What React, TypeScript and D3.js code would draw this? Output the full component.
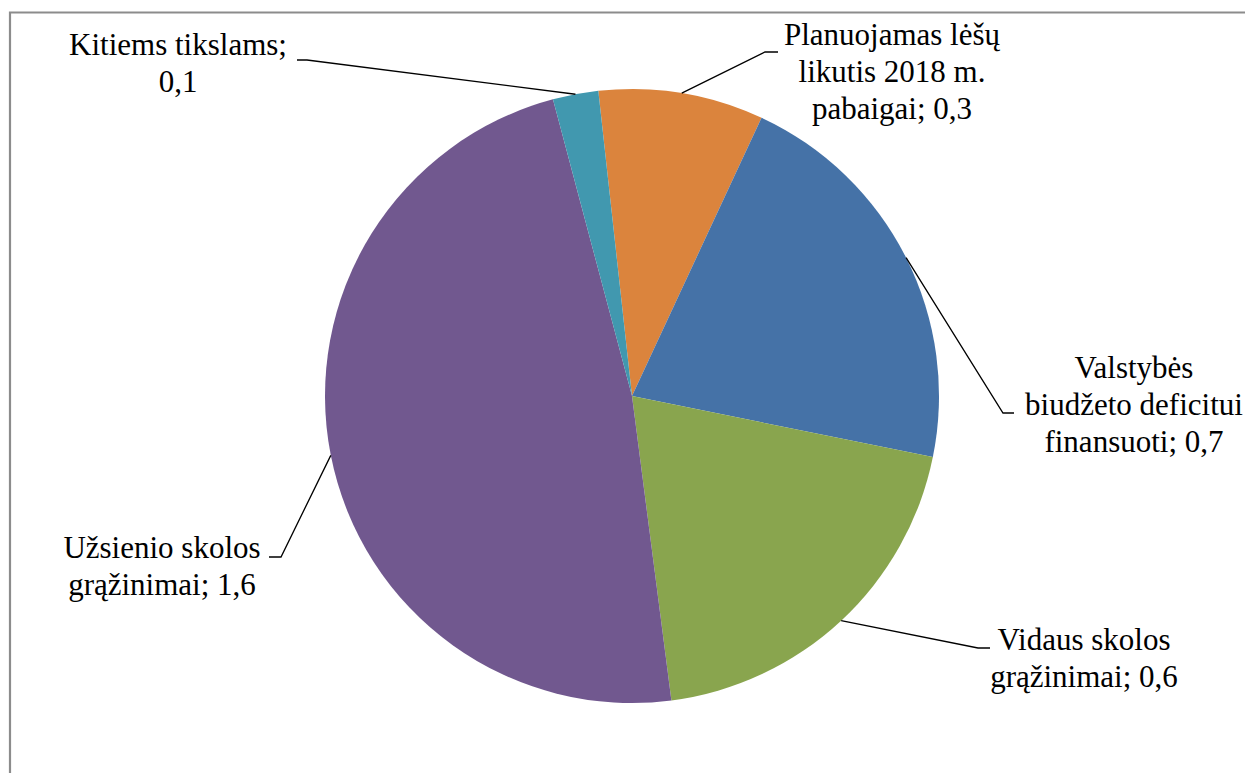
import React from "react";
import * as d3 from "d3";

// slice order clockwise from the top
const categories = [
  "Planuojamas lėšų likutis 2018 m. pabaigai",
  "Valstybės biudžeto deficitui finansuoti",
  "Vidaus skolos grąžinimai",
  "Užsienio skolos grąžinimai",
  "Kitiems tikslams",
];
// values (labels show the rounded numbers)
const values = [0.29, 0.71, 0.66, 1.6, 0.08];
const valueLabels = ["0,3", "0,7", "0,6", "1,6", "0,1"];
const labelLines = [
  ["Planuojamas lėšų", "likutis 2018 m.", "pabaigai; 0,3"],
  ["Valstybės", "biudžeto deficitui", "finansuoti; 0,7"],
  ["Vidaus skolos", "grąžinimai; 0,6"],
  ["Užsienio skolos", "grąžinimai; 1,6"],
  ["Kitiems tikslams;", "0,1"],
];
const colors = ["#DB843D", "#4572A7", "#89A54E", "#71588F", "#4198AF"];

// label layout: text centre, first baseline, leader elbow and end
const labelLayout = [
  { cx: 892, y: 45, elbow: [765, 52], end: [778, 52] },
  { cx: 1134, y: 378, elbow: [1003, 413], end: [1014, 413] },
  { cx: 1084, y: 650, elbow: [978, 648], end: [990, 648] },
  { cx: 162, y: 558, elbow: [281, 557], end: [269, 557] },
  { cx: 178, y: 55, elbow: [307, 60], end: [297, 60] },
];

const W = 1245;
const H = 773;
const cx = 632;
const cy = 396;
const radius = 307;
const lineH = 37;
const start = (-6.3 * Math.PI) / 180;
const serif = "Liberation Serif, Tinos, Times New Roman, DejaVu Serif, serif";

export default function App() {
  const pie = d3
    .pie<number>()
    .sort(null)
    .value((d) => d)
    .startAngle(start)
    .endAngle(start + 2 * Math.PI);
  const arcs = pie(values);
  const arc = d3.arc<d3.PieArcDatum<number>>().innerRadius(0).outerRadius(radius);

  return (
    <svg
      width={W}
      height={H}
      style={{ position: "absolute", left: 0, top: 0, background: "#fff", fontFamily: serif }}
    >
      <rect x={0} y={0} width={W} height={H} fill="#fff" />
      {/* chart frame */}
      <path d={`M10,${H} V12.5 H${W}`} fill="none" stroke="#8c8c8c" strokeWidth={2.2} />

      <g transform={`translate(${cx},${cy})`}>
        {arcs.map((a, i) => (
          <path key={categories[i]} d={arc(a) || ""} fill={colors[i]} />
        ))}
      </g>

      {arcs.map((a, i) => {
        const mid = (a.startAngle + a.endAngle) / 2;
        const px = cx + radius * Math.sin(mid);
        const py = cy - radius * Math.cos(mid);
        const L = labelLayout[i];
        return (
          <polyline
            key={"l" + i}
            points={`${px},${py} ${L.elbow[0]},${L.elbow[1]} ${L.end[0]},${L.end[1]}`}
            fill="none"
            stroke="#000"
            strokeWidth={1.3}
          />
        );
      })}

      {labelLines.map((lines, i) => {
        const L = labelLayout[i];
        return (
          <text
            key={"t" + i}
            textAnchor="middle"
            fill="#000"
            data-value={valueLabels[i]}
            style={{ fontFamily: serif, fontSize: 31 }}
          >
            {lines.map((s, j) => (
              <tspan key={j} x={L.cx} y={L.y + j * lineH}>
                {s}
              </tspan>
            ))}
          </text>
        );
      })}
    </svg>
  );
}
